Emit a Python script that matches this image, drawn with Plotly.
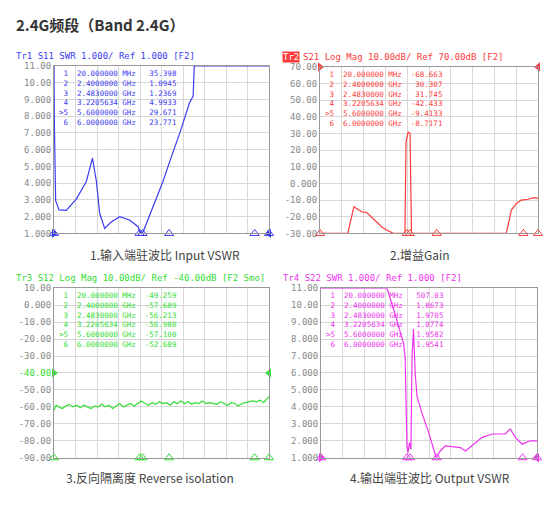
import plotly.graph_objects as go

W, H = 537, 490
OFF = 8
def X(px): return (px - OFF) / W
def Y(py): return 1 - (py - OFF) / H

marker_freqs = [0.02, 2.4, 2.483, 3.2205634, 5.6, 6.0]
marker_labels = ["1", "2", "3", "4", ">5", "6"]
marker_fstr = ["20.000000 MHz", "2.4000000 GHz", "2.4830000 GHz", "3.2205634 GHz", "5.6000000 GHz", "6.0000000 GHz"]

s11_f = [0.02, 0.03, 0.066, 0.16, 0.36, 0.64, 0.92, 1.09, 1.2, 1.29, 1.43, 1.61, 1.85, 2.12, 2.36, 2.42, 2.5, 2.77, 3.05, 3.24, 3.52, 3.79, 3.89, 3.92, 6.0]
s11_v = [11, 7.6, 2.95, 2.4, 2.37, 3.05, 4.1, 5.5, 4.1, 2.2, 1.3, 1.68, 2.0, 1.8, 1.4, 1.0, 1.1, 2.56, 4.1, 5.3, 7.0, 8.8, 9.2, 11, 11]
s11_mk = ["35.398", "1.0945", "1.2369", "4.9933", "29.671", "23.771"]

s21_f = [0.02, 0.78, 0.95, 1.16, 1.30, 1.53, 1.71, 1.85, 1.94, 2.03, 2.35, 2.38, 2.44, 2.49, 2.53, 5.13, 5.27, 5.41, 5.54, 5.73, 5.89, 6.0]
s21_v = [-30, -30, -14, -17, -17.5, -22, -26, -28, -29, -30, -30, 25, 31, 30, -30, -30, -16, -12, -10, -9.5, -8.5, -9]
s21_mk = ["-68.663", "30.307", "31.745", "-42.433", "-9.4133", "-8.7171"]

s12_f = [0.02, 0.08, 0.15, 0.25, 0.35, 0.45, 0.55, 0.65, 0.75, 0.85, 0.95, 1.05, 1.15, 1.25, 1.35, 1.45, 1.55, 1.65, 1.75, 1.85, 1.95, 2.05, 2.15, 2.25, 2.35, 2.45, 2.55, 2.65, 2.75, 2.85, 2.95, 3.05, 3.15, 3.25, 3.35, 3.45, 3.55, 3.65, 3.75, 3.85, 3.95, 4.05, 4.15, 4.25, 4.35, 4.45, 4.55, 4.65, 4.75, 4.85, 4.95, 5.05, 5.15, 5.25, 5.35, 5.45, 5.55, 5.65, 5.75, 5.85, 5.92, 6.0]
s12_v = [-62, -59, -60, -61, -59.5, -58.5, -60, -59, -60.5, -59, -60, -61, -59.5, -60, -58.5, -60, -59, -61, -59.5, -58, -60, -59, -58, -59.5, -58, -56.5, -58, -59, -57.5, -58.5, -57, -58, -57.5, -59, -57, -58, -56.5, -58, -57, -58.5, -57.5, -58, -56.5, -58, -57.5, -58, -58.5, -57, -58, -59, -57.5, -58, -59.5, -58, -57.5, -57, -56.5, -57, -56, -57.5, -56, -54]
s12_mk = ["-49.259", "-57.689", "-56.213", "-56.980", "-57.100", "-52.689"]

s22_f = [0.02, 1.85, 2.08, 2.31, 2.35, 2.40, 2.43, 2.47, 2.51, 2.54, 2.58, 2.63, 2.68, 2.82, 3.0, 3.14, 3.21, 3.32, 3.46, 3.65, 3.88, 4.02, 4.2, 4.48, 4.76, 5.12, 5.26, 5.4, 5.59, 5.81, 6.0]
s22_v = [11, 11, 9.4, 7.7, 6.9, 1.7, 1.3, 1.9, 1.5, 6.9, 8.6, 5.9, 4.6, 3.6, 2.5, 1.5, 1.0, 1.4, 1.7, 1.66, 1.6, 1.4, 1.7, 2.2, 2.4, 2.4, 2.7, 2.2, 1.8, 2.0, 2.0]
s22_mk = ["507.03", "1.8673", "1.9705", "1.0774", "1.9582", "1.9541"]

swr_ticks = [1, 2, 3, 4, 5, 6, 7, 8, 9, 10, 11]
swr_text = ["1.000", "2.000", "3.000", "4.000", "5.000", "6.000", "7.000", "8.000", "9.000", "10.00", "11.00"]
s21_ticks = [-30, -20, -10, 0, 10, 20, 30, 40, 50, 60, 70]
s21_text = ["-30.00", "-20.00", "-10.00", "0.000", "10.00", "20.00", "30.00", "40.00", "50.00", "60.00", "70.00"]
s12_ticks = [-90, -80, -70, -60, -50, -40, -30, -20, -10, 0, 10]
s12_text = ["-90.00", "-80.00", "-70.00", "-60.00", "-50.00", "<span style='color:#33dd33'>-40.00</span>", "-30.00", "-20.00", "-10.00", "0.000", "10.00"]

panels = [
    dict(f=s11_f, v=s11_v, mk=s11_mk, ticks=swr_ticks, text=swr_text, rng=[1, 11], col="#3b3bf0",
         px=(54, 269), py=(62, 233), head="Tr1 S11 SWR 1.000/ Ref 1.000 [F2]", cap="1.输入端驻波比 Input VSWR", capx=165, capy=255, ref=1),
    dict(f=s21_f, v=s21_v, mk=s21_mk, ticks=s21_ticks, text=s21_text, rng=[-30, 70], col="#ff3b3b",
         px=(320, 538), py=(63, 233), head="S21 Log Mag 10.00dB/ Ref 70.00dB [F2]", cap="2.增益Gain", capx=420, capy=255, ref=70),
    dict(f=s12_f, v=s12_v, mk=s12_mk, ticks=s12_ticks, text=s12_text, rng=[-90, 10], col="#33dd33",
         px=(54, 269), py=(289, 462), head="Tr3 S12 Log Mag 10.00dB/ Ref -40.00dB [F2 Smo]", cap="3.反向隔离度 Reverse isolation", capx=150, capy=482, ref=-40),
    dict(f=s22_f, v=s22_v, mk=s22_mk, ticks=swr_ticks, text=swr_text, rng=[1, 11], col="#ee33ee",
         px=(321, 537), py=(289, 462), head="Tr4 S22 SWR 1.000/ Ref 1.000 [F2]", cap="4.输出端驻波比 Output VSWR", capx=430, capy=482, ref=1),
]

fig = go.Figure()
ann = []
mono = "DejaVu Sans Mono"
def A(**kw):
    d = dict(xref="paper", yref="paper", showarrow=False, xanchor="left", yanchor="middle")
    d.update(kw)
    ann.append(d)

for i, p in enumerate(panels):
    n = "" if i == 0 else str(i + 1)
    xa, ya = "x" + n, "y" + n
    fig.add_trace(go.Scatter(x=p["f"], y=p["v"], mode="lines", line=dict(color=p["col"], width=1.2),
                             xaxis=xa, yaxis=ya, showlegend=False))
    fig.add_trace(go.Scatter(x=marker_freqs, y=[p["rng"][0]] * 6, mode="markers",
                             marker=dict(symbol="triangle-up-open", size=8, color=p["col"]),
                             xaxis=xa, yaxis=ya, showlegend=False, cliponaxis=False))
    fig.add_trace(go.Scatter(x=[0.02, 6.0], y=[p["ref"], p["ref"]], mode="markers",
                             marker=dict(symbol=["triangle-right", "triangle-left"], size=8, color=p["col"]),
                             xaxis=xa, yaxis=ya, showlegend=False, cliponaxis=False))
    xaxis = dict(domain=[X(p["px"][0]), X(p["px"][1])], range=[0.02, 6.0], tickvals=[0.02 + k * 0.598 for k in range(11)],
                 showticklabels=False, showgrid=True, gridcolor="#d8d8d8", zeroline=False,
                 showline=True, linecolor="#999", mirror=True, anchor=ya, ticks="")
    yaxis = dict(domain=[Y(p["py"][1]), Y(p["py"][0])], range=p["rng"], tickvals=p["ticks"], ticktext=p["text"],
                 showgrid=True, gridcolor="#d8d8d8", zeroline=False, showline=True, linecolor="#999", mirror=True,
                 tickfont=dict(family=mono, size=9, color="#888"), anchor=xa, ticks="")
    fig.update_layout(**{("xaxis" + n): xaxis, ("yaxis" + n): yaxis})
    if i == 1:
        A(x=X(p["px"][0] - 38), y=Y(p["py"][0] - 10), text="Tr2", bgcolor="#ff3b3b", borderpad=0,
          font=dict(family=mono, size=9, color="white"))
        A(x=X(p["px"][0] - 19), y=Y(p["py"][0] - 10), text=p["head"], font=dict(family=mono, size=9, color=p["col"]))
    else:
        A(x=X(p["px"][0] - 40), y=Y(p["py"][0] - 10), text=p["head"], font=dict(family=mono, size=9, color=p["col"]))
    rows = [f"{marker_labels[r]:>2}  {marker_fstr[r]} {p['mk'][r]:>8}".replace(" ", "&nbsp;") for r in range(6)]
    A(x=X(p["px"][0] + 3), y=Y(p["py"][0] + 1), yanchor="top", text="<br>".join(rows), align="left",
      font=dict(family=mono, size=7.5, color=p["col"]))
    A(x=X(p["capx"]), y=Y(p["capy"]), text=p["cap"], xanchor="center",
      font=dict(family="Noto Sans CJK SC", size=12, color="#444"))

A(x=X(14), y=Y(20), text="<b>2.4G频段（Band 2.4G）</b>", font=dict(family="Noto Sans CJK SC", size=15, color="#333"))

fig.update_layout(width=W, height=H, margin=dict(l=0, r=0, t=0, b=0), paper_bgcolor="white", plot_bgcolor="white",
                  annotations=ann)
fig.write_html("out.html")
